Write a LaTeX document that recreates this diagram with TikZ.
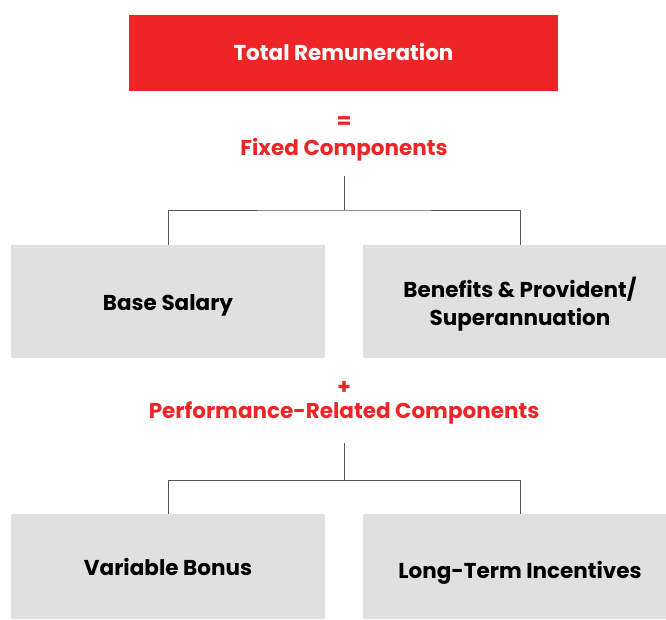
\documentclass[tikz,border=0pt]{standalone}
\usepackage{fontspec}
\setmainfont{Poppins}
\definecolor{tred}{HTML}{EE2527}
\definecolor{tgray}{HTML}{E0E0E0}
\definecolor{tline}{HTML}{555555}
\begin{document}
\begin{tikzpicture}[x=1pt,y=-1pt,
  txt/.style={inner sep=0pt,anchor=base,font=\fontsize{21.5}{28}\selectfont\bfseries},
  redbox/.style={fill=tred,minimum width=429pt,minimum height=76pt,inner sep=0pt},
  graybox/.style={fill=tgray,inner sep=0pt,minimum width=314pt},
  whitetxt/.style={txt,text=white},
  blacktxt/.style={txt,text=black},
  redtxt/.style={txt,text=tred},
  conn/.style={draw=tline,line width=1pt}]
\useasboundingbox (0,0) rectangle (666,619);
\node[redbox] (total) at (343.5,53) {};
\node[whitetxt] (totalt) at (343.5,60) {Total Remuneration};
\node[redtxt] (eq) at (344,128) {=};
\node[redtxt] (fixed) at (344,155) {Fixed Components};
\node[graybox,minimum height=113pt] (base) at (168,301.5) {};
\node[graybox,minimum height=113pt] (ben) at (520,301.5) {};
\node[blacktxt] (baset) at (168,310) {Base Salary};
\node[blacktxt] (bent1) at (520,297) {Benefits \& Provident/};
\node[blacktxt] (bent2) at (520,325) {Superannuation};
\node[redtxt] (plus) at (344,394) {+};
\node[redtxt] (perf) at (344,418) {Performance-Related Components};
\node[graybox,minimum height=105pt] (var) at (168,566.5) {};
\node[graybox,minimum height=105pt] (lti) at (520,566.5) {};
\node[blacktxt] (vart) at (168,575) {Variable Bonus};
\node[blacktxt] (ltit) at (520,578) {Long-Term Incentives};
\coordinate (f1) at (344,176);
\coordinate (j1) at (344,210);
\coordinate (p1) at (344,443);
\coordinate (j2) at (344,480);
\draw[conn] (f1) -- (j1);
\draw[conn] (base.north) |- (j1) -| (ben.north);
\draw[conn] (p1) -- (j2);
\draw[conn] (var.north) |- (j2) -| (lti.north);
\end{tikzpicture}
\end{document}
